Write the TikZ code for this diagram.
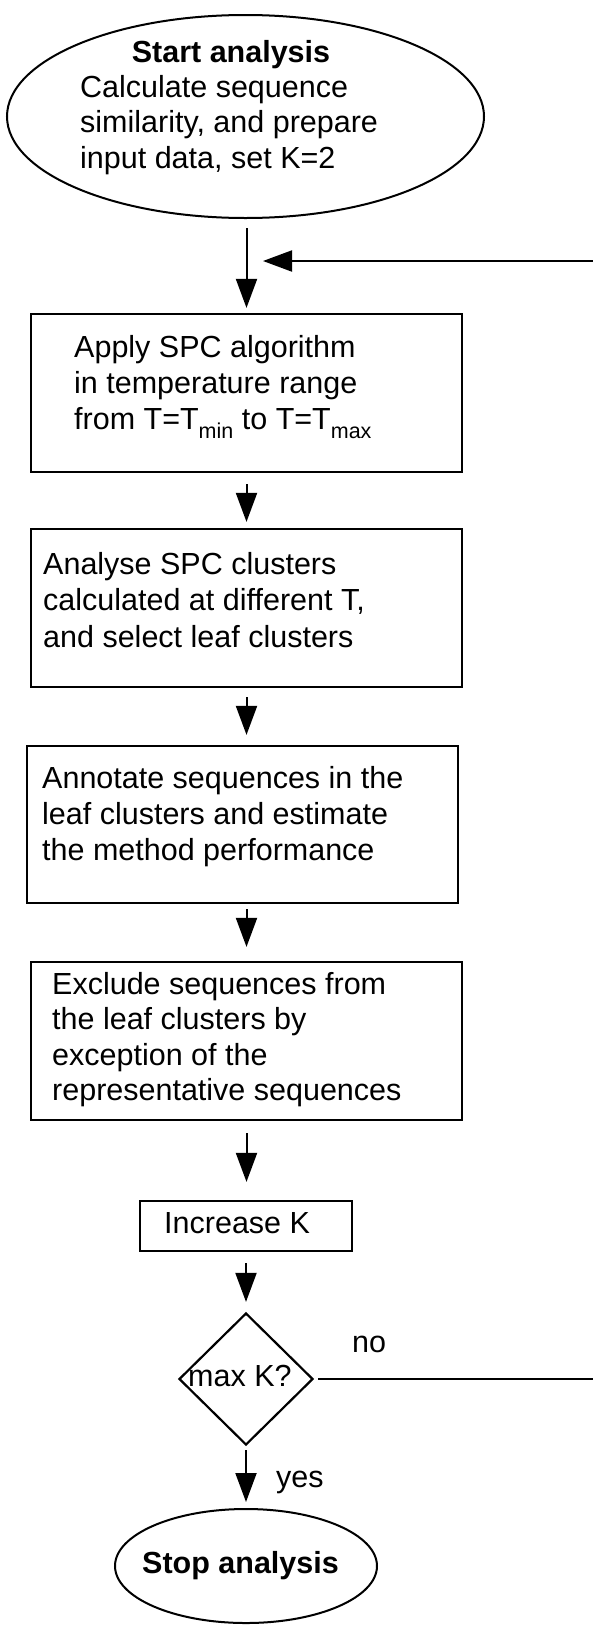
\documentclass[tikz,border=0pt]{standalone}
\usepackage{fontspec}
\setmainfont{Liberation Sans}
\usetikzlibrary{shapes.geometric,arrows.meta}
\newcommand\lowsub[1]{\raisebox{-9pt}{\fontsize{21.5}{22}\selectfont #1}}
\newcommand\textlines[1]{\begin{tabular}[t]{@{}l@{}}#1\end{tabular}}
\tikzset{
  box/.style={draw, line width=2.2pt, inner sep=0pt, rectangle},
  oval/.style={draw, line width=2pt, inner sep=0pt, ellipse},
  decision/.style={draw, line width=2.2pt, inner sep=0pt, diamond},
  txt/.style={inner sep=0pt, anchor=base west, font=\fontsize{30.5}{36}\selectfont},
  ttl/.style={inner sep=0pt, anchor=base, font=\fontsize{30.5}{36}\selectfont\bfseries},
  arr/.style={line width=2pt, -{Triangle[length=29pt,width=21pt]}},
}
\begin{document}
\begin{tikzpicture}[x=1pt,y=-1pt]
\useasboundingbox (0,0) rectangle (593,1625);
\clip (0,0) rectangle (593,1625);

% start
\node[oval, minimum width=477pt, minimum height=203pt] (start) at (245.5,116.5) {};
\node[ttl] (startt) at (231,62) {Start analysis};
\node[txt, font=\fontsize{30.5}{35.5}\selectfont] (startb) at (80,97) {\textlines{Calculate sequence\\similarity, and prepare\\input data, set K=2}};

% boxes
\node[box, minimum width=431pt, minimum height=158pt] (b1) at (246.5,393) {};
\node[txt] (b1t) at (74,357) {\textlines{Apply SPC algorithm\\in temperature range\\from T=T\lowsub{min} to T=T\lowsub{max}}};

\node[box, minimum width=431pt, minimum height=158pt] (b2) at (246.5,608) {};
\node[txt, font=\fontsize{30.5}{36.5}\selectfont] (b2t) at (43,574) {\textlines{Analyse SPC clusters\\calculated at different T,\\and select leaf clusters}};

\node[box, minimum width=431pt, minimum height=157pt] (b3) at (242.5,824.5) {};
\node[txt] (b3t) at (42,788) {\textlines{Annotate sequences in the\\leaf clusters and estimate\\the method performance}};

\node[box, minimum width=431pt, minimum height=158pt] (b4) at (246.5,1041) {};
\node[txt, font=\fontsize{30.5}{35.5}\selectfont] (b4t) at (52,994) {\textlines{Exclude sequences from\\the leaf clusters by\\exception of the\\representative sequences}};

\node[box, minimum width=212pt, minimum height=50pt] (inc) at (246,1226) {};
\node[txt] (inct) at (164,1233) {Increase K};

\node[decision, minimum width=134pt, minimum height=132pt] (dia) at (246,1379) {};
\node[txt] (diat) at (188,1386) {max K?};
\node[txt] (no) at (352,1352) {no};
\node[txt] (yes) at (276,1487) {yes};

\node[oval, minimum width=262pt, minimum height=114pt] (stop) at (246,1566) {};
\node[ttl] (stopt) at (240.5,1573) {Stop analysis};

\coordinate (fb) at (263,261);

% connectors
\draw[arr, shorten <=9pt, shorten >=5pt] (b1.north |- start.south) -- (b1.north);
\draw[arr, shorten <=11pt, shorten >=6pt] (b1.south) -- (b2.north);
\draw[arr, shorten <=9pt, shorten >=10pt] (b2.south) -- (b2.south |- b3.north);
\draw[arr, shorten <=5pt, shorten >=14pt] (b4.north |- b3.south) -- (b4.north);
\draw[arr, shorten <=12pt, shorten >=18pt] (b4.south) -- (b4.south |- inc.north);
\draw[arr, shorten <=11pt, shorten >=10pt] (inc.south) -- (dia.north);
\draw[arr, shorten <=4pt, shorten >=6pt] (dia.south) -- (stop.north);
\draw[arr, shorten <=4pt] (dia.east) -- ++(300,0) |- (fb);
\end{tikzpicture}
\end{document}
